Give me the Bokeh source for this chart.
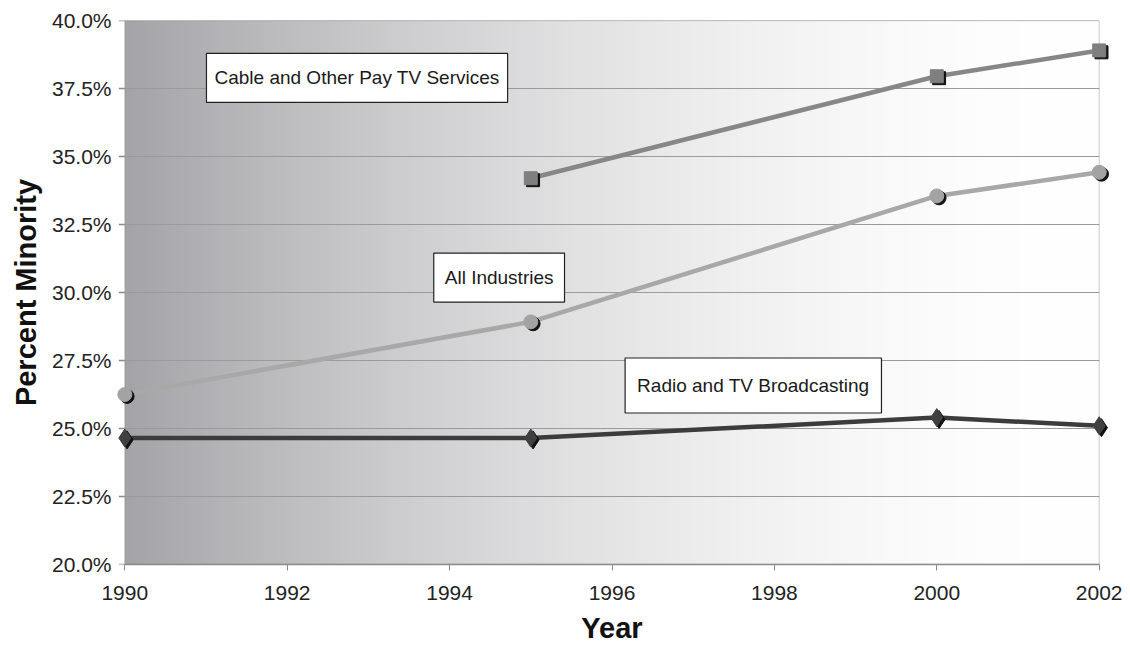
import numpy as np
from bokeh.plotting import figure
from bokeh.models import ColumnDataSource, Label, PrintfTickFormatter, FixedTicker, Range1d, BoxAnnotation
from bokeh.transform import dodge
from bokeh.embed import file_html
from bokeh.resources import INLINE

# ---- data ----
cable_years = [1995, 2000, 2002]
cable_vals = [34.2, 37.95, 38.9]

all_years = [1990, 1995, 2000, 2002]
all_vals = [26.25, 28.92, 33.55, 34.42]

radio_years = [1990, 1995, 2000, 2002]
radio_vals = [24.65, 24.65, 25.4, 25.1]

x_ticks = [1990, 1992, 1994, 1996, 1998, 2000, 2002]
y_ticks = [20.0, 22.5, 25.0, 27.5, 30.0, 32.5, 35.0, 37.5, 40.0]

FONT = "Liberation Sans"
GRAY = "#8a8a8a"

x0, x1 = x_ticks[0], x_ticks[-1]
y0, y1 = y_ticks[0], y_ticks[-1]
PAD = 0.25  # extra room so edge markers are not clipped
PX_PER_YEAR = 81.17

p = figure(width=1130, height=646, output_backend="svg", toolbar_location=None,
           x_range=Range1d(x0 - PAD, x1 + PAD), y_range=Range1d(y0, y1),
           min_border_left=104, min_border_right=11, min_border_top=20, min_border_bottom=82)
p.background_fill_color = "white"
p.border_fill_color = "white"
p.outline_line_color = None

# gradient background over the true plot area
W = 400
t = np.linspace(0, 1, W)
f = 1 - (1 - t) ** 1.8
left = np.array([164, 164, 168])
right = np.array([255, 255, 255])
cols = (left[None, :] + (right - left)[None, :] * f[:, None]).astype(np.uint32)
img = np.empty((2, W), dtype=np.uint32)
view = img.view(dtype=np.uint8).reshape((2, W, 4))
view[:, :, 0] = cols[:, 0]
view[:, :, 1] = cols[:, 1]
view[:, :, 2] = cols[:, 2]
view[:, :, 3] = 255
p.image_rgba(image=[img], x=x0, y=y0, dw=x1 - x0, dh=y1 - y0, level="image")

# grid lines bounded to the plot area
p.xgrid.grid_line_color = None
p.ygrid.grid_line_color = None
p.segment(x0=[x0] * len(y_ticks), x1=[x1] * len(y_ticks), y0=y_ticks, y1=y_ticks,
          line_color="#9a9a9a", line_width=1, level="underlay")

# y-axis tick marks at the true axis position
tick_len = 6 / PX_PER_YEAR
p.segment(x0=[x0 - tick_len] * len(y_ticks), x1=[x0] * len(y_ticks), y0=y_ticks, y1=y_ticks,
          line_color=GRAY, line_width=1.5, level="underlay")

# plot area border
p.add_layout(BoxAnnotation(left=x0, right=x1, bottom=y0, top=y1, fill_alpha=0,
                           line_color=GRAY, line_width=1.5, level="underlay"))

# axes
p.xaxis.ticker = FixedTicker(ticks=x_ticks)
p.yaxis.ticker = FixedTicker(ticks=y_ticks)
p.yaxis.formatter = PrintfTickFormatter(format="%.1f%%")
p.xaxis.bounds = (x0, x1)
for ax in (p.xaxis[0], p.yaxis[0]):
    ax.axis_line_color = GRAY
    ax.axis_line_width = 1.5
    ax.major_tick_line_color = GRAY
    ax.major_tick_out = 6
    ax.major_tick_in = 0
    ax.minor_tick_line_color = None
    ax.major_label_text_font = FONT
    ax.major_label_text_font_size = "21px"
    ax.major_label_text_color = "#222222"
    ax.axis_label_text_font = FONT
    ax.axis_label_text_font_style = "bold"
    ax.axis_label_text_font_size = "29px"
    ax.axis_label_text_color = "#111111"
p.yaxis.axis_line_color = None
p.yaxis.major_tick_line_color = None
p.yaxis.major_tick_out = 0
p.yaxis.major_label_standoff = -7
p.xaxis.axis_label = "Year"
p.yaxis.axis_label = "Percent Minority"
p.xaxis.major_label_standoff = 15
p.xaxis.axis_label_standoff = 9
p.yaxis.axis_label_standoff = 7

dx = 0.028
dy = 0.07

def series(xs, ys, line_color, marker, size, fill):
    src = ColumnDataSource(dict(x=xs, y=ys))
    p.line("x", "y", source=src, line_color=line_color, line_width=4.5)
    p.scatter(x=dodge("x", dx), y=dodge("y", -dy), source=src, marker=marker, size=size,
              fill_color="#111111", line_color="#111111")
    p.scatter("x", "y", source=src, marker=marker, size=size, fill_color=fill, line_color=fill)

series(cable_years, cable_vals, "#878787", "square", 13, "#7f7f7f")
series(all_years, all_vals, "#a8a8a8", "circle", 14, "#a3a3a3")
series(radio_years, radio_vals, "#3c3c3c", "diamond", 18, "#404040")

def box(text, x, y, pad):
    p.add_layout(Label(x=x, y=y, text=text, text_align="center", text_baseline="middle",
                       text_font=FONT, text_font_size="19px", text_color="#1a1a1a",
                       background_fill_color="white", border_line_color="#222222",
                       border_line_width=1.2, padding=pad))

box("Cable and Other Pay TV Services", 1992.86, 37.89, (8, 14))
box("All Industries", 1994.61, 30.55, (11, 14))
box("Radio and TV Broadcasting", 1997.74, 26.58, (12, 17))

open("out.html", "w").write(file_html(p, INLINE))
